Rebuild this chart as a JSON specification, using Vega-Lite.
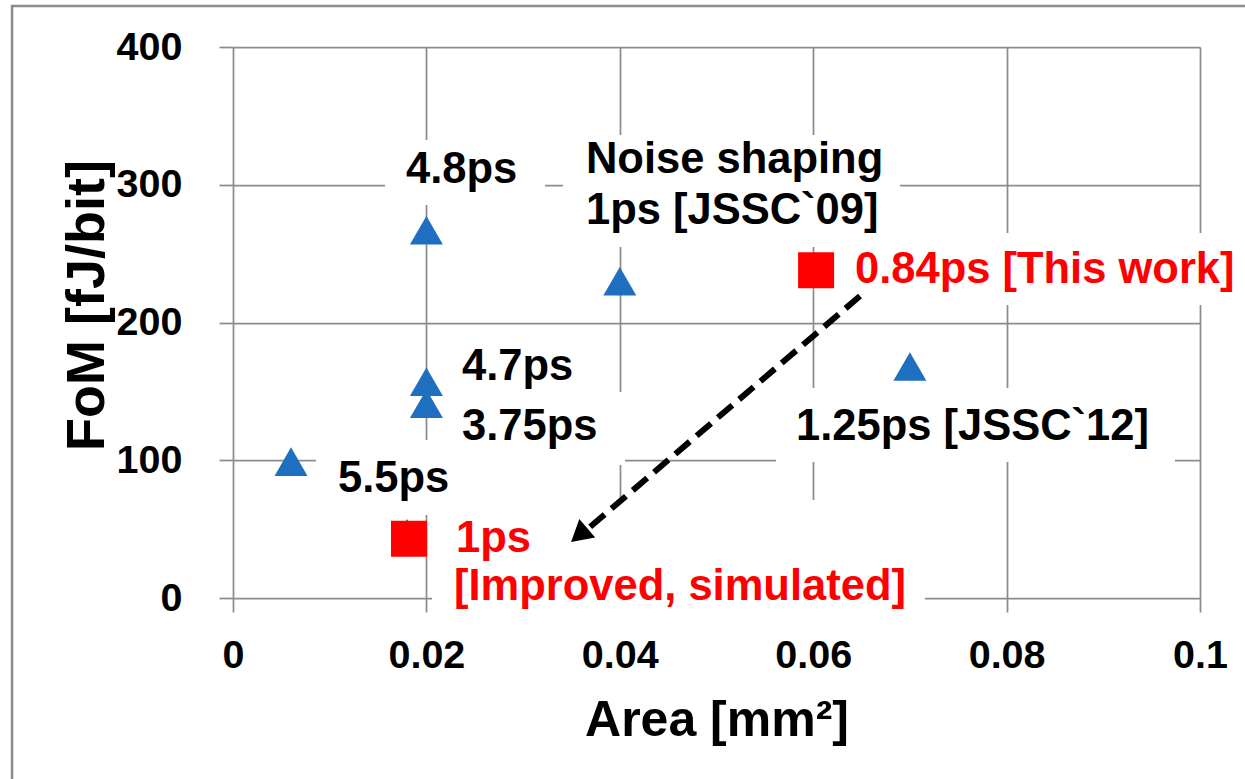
{
  "$schema": "https://vega.github.io/schema/vega-lite/v6.json",
  "width": 967,
  "height": 551,
  "autosize": {"type": "none"},
  "padding": {"left": 233, "top": 47, "right": 45, "bottom": 181},
  "background": "white",
  "config": {"view": {"stroke": null}, "font": "Liberation Sans"},
  "datasets": {
    "points": [
      {"series": "prior", "x": 0.006, "y": 99},
      {"series": "prior", "x": 0.02, "y": 267},
      {"series": "prior", "x": 0.02, "y": 157},
      {"series": "prior", "x": 0.02, "y": 141},
      {"series": "prior", "x": 0.04, "y": 230},
      {"series": "prior", "x": 0.07, "y": 168},
      {"series": "prior", "x": 0.018, "y": 47},
      {"series": "this", "x": 0.0182, "y": 43},
      {"series": "this", "x": 0.0603, "y": 238}
    ],
    "labels": [
      {"text": "4.8ps", "series": "prior", "x": 0.01789, "y": 301.3},
      {"text": "Noise shaping", "series": "prior", "x": 0.0365, "y": 308.5},
      {"text": "1ps [JSSC`09]", "series": "prior", "x": 0.0365, "y": 271.5},
      {"text": "0.84ps [This work]", "series": "this", "x": 0.06432, "y": 228.7},
      {"text": "4.7ps", "series": "prior", "x": 0.02368, "y": 158.3},
      {"text": "3.75ps", "series": "prior", "x": 0.02368, "y": 114.7},
      {"text": "5.5ps", "series": "prior", "x": 0.01086, "y": 77.0},
      {"text": "1.25ps [JSSC`12]", "series": "prior", "x": 0.05822, "y": 114.7},
      {"text": "1ps", "series": "this", "x": 0.02306, "y": 33.4},
      {"text": "[Improved, simulated]", "series": "this", "x": 0.02285, "y": -1.45}
    ],
    "boxes": [
      {"x": 0.01572, "x2": 0.03226, "y": 332.5, "y2": 285.3},
      {"x": 0.03413, "x2": 0.06898, "y": 336.1, "y2": 254.8},
      {"x": 0.06256, "x2": 0.10465, "y": 265.0, "y2": 212.7},
      {"x": 0.02192, "x2": 0.03795, "y": 190.9, "y2": 149.5},
      {"x": 0.02192, "x2": 0.04054, "y": 149.5, "y2": 96.6},
      {"x": 0.00858, "x2": 0.02451, "y": 114.7, "y2": 60.3},
      {"x": 0.05615, "x2": 0.09741, "y": 152.5, "y2": 98.7},
      {"x": 0.02058, "x2": 0.07156, "y": 71.1, "y2": -14.0}
    ]
  },
  "encoding": {
    "x": {
      "field": "x",
      "type": "quantitative",
      "scale": {"domain": [0, 0.1], "nice": false, "zero": false},
      "axis": {
        "title": "Area [mm²]",
        "values": [0, 0.02, 0.04, 0.06, 0.08, 0.1],
        "labelExpr": "format(datum.value, '~g')",
        "grid": true,
        "gridColor": "#8c8c8c",
        "gridWidth": 1.75,
        "domain": false,
        "ticks": true,
        "tickColor": "#8c8c8c",
        "tickWidth": 1.75,
        "tickSize": 14,
        "labelFont": "Liberation Sans",
        "labelFontSize": 39.5,
        "labelFontWeight": "bold",
        "labelColor": "#000000",
        "labelBaseline": "alphabetic",
        "labelPadding": 55,
        "labelFlush": false,
        "labelOverlap": false,
        "titleFont": "Liberation Sans",
        "titleFontSize": 50,
        "titleFontWeight": "bold",
        "titleColor": "#000000",
        "titleBaseline": "alphabetic",
        "titleY": 137,
        "titleX": 483.5,
        "titleAnchor": null
      }
    },
    "y": {
      "field": "y",
      "type": "quantitative",
      "scale": {"domain": [0, 400], "nice": false, "zero": false},
      "axis": {
        "title": "FoM [fJ/bit]",
        "values": [0, 100, 200, 300, 400],
        "format": "d",
        "grid": true,
        "gridColor": "#8c8c8c",
        "gridWidth": 1.75,
        "domain": false,
        "ticks": true,
        "tickColor": "#8c8c8c",
        "tickWidth": 1.75,
        "tickSize": 14,
        "labelFont": "Liberation Sans",
        "labelFontSize": 39.5,
        "labelFontWeight": "bold",
        "labelColor": "#000000",
        "labelBaseline": "middle",
        "labelPadding": 37,
        "labelFlush": false,
        "labelOverlap": false,
        "titleFont": "Liberation Sans",
        "titleFontSize": 54,
        "titleFontWeight": "bold",
        "titleColor": "#000000",
        "titleAngle": -90,
        "titleAlign": "center",
        "titleBaseline": "alphabetic",
        "titleX": -130,
        "titleY": 258
      }
    }
  },
  "layer": [
    {
      "data": {"values": [{"x": -0.02285, "x2": 0.12, "y": 429.8, "y2": -160}]},
      "mark": {"type": "rect", "fill": null, "fillOpacity": 0, "stroke": "#8c8c8c", "strokeWidth": 2.5},
      "encoding": {"x2": {"field": "x2"}, "y2": {"field": "y2"}}
    },
    {
      "data": {"name": "boxes"},
      "mark": {"type": "rect", "fill": "white", "stroke": null},
      "encoding": {"x2": {"field": "x2"}, "y2": {"field": "y2"}}
    },
    {
      "data": {"values": [{"x": 0.06484, "y": 219.2, "x2": 0.03619, "y2": 47.2}]},
      "mark": {"type": "rule", "color": "#000000", "strokeWidth": 6, "strokeDash": [19, 9]},
      "encoding": {"x2": {"field": "x2"}, "y2": {"field": "y2"}}
    },
    {
      "data": {"values": [{"x": 0.0358, "y": 45.6}]},
      "mark": {"type": "point", "shape": "triangle-up", "size": 600, "angle": 229.5, "filled": true, "color": "#000000", "opacity": 1}
    },
    {
      "data": {"name": "points"},
      "mark": {"type": "point", "filled": true, "opacity": 1},
      "encoding": {
        "shape": {"field": "series", "type": "nominal", "scale": {"domain": ["prior", "this"], "range": ["triangle-up", "square"]}, "legend": null},
        "color": {"field": "series", "type": "nominal", "scale": {"domain": ["prior", "this"], "range": ["#1f6fc1", "#ff0000"]}, "legend": null},
        "size": {"field": "series", "type": "nominal", "scale": {"domain": ["prior", "this"], "range": [1089, 1296]}, "legend": null}
      }
    },
    {
      "data": {"name": "labels"},
      "mark": {"type": "text", "align": "left", "baseline": "alphabetic", "font": "Liberation Sans", "fontSize": 43.5, "fontWeight": "bold"},
      "encoding": {
        "text": {"field": "text", "type": "nominal"},
        "fill": {"field": "series", "type": "nominal", "scale": {"domain": ["prior", "this"], "range": ["#000000", "#ff0000"]}, "legend": null}
      }
    }
  ]
}
